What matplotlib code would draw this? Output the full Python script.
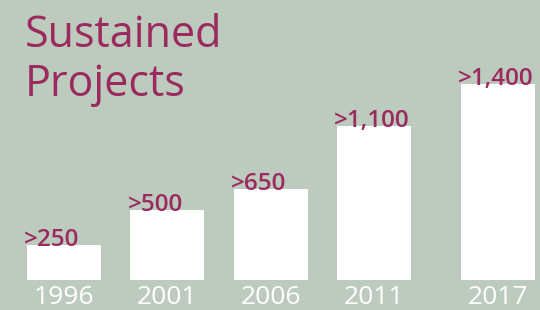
import matplotlib.pyplot as plt
from matplotlib import transforms

years = [1996, 2001, 2006, 2011, 2017]
projects = [250, 500, 650, 1100, 1400]
labels = ['>250', '>500', '>650', '>1,100', '>1,400']

bg = '#bdcbbf'
maroon = '#9b2a5e'
plt.rcParams['font.family'] = ['Open Sans', 'DejaVu Sans']

fig = plt.figure(figsize=(5.4, 3.1), dpi=100, facecolor=bg)
ax = fig.add_axes([0, 30 / 310, 1, 280 / 310])
ax.set_facecolor(bg)

w = 3.58
ax.bar(years, projects, width=w, color='white', zorder=2)
ax.set_xlim(1992.9, 2019.03)
ax.set_ylim(0, 2000)
ax.axis('off')

shift = transforms.offset_copy(ax.transData, fig=fig, x=-2, y=-1, units='points')
below = transforms.offset_copy(ax.transData, fig=fig, y=-17.5, units='points')
for yr, v, lab in zip(years, projects, labels):
    ax.text(yr - w / 2, v, lab, transform=shift, ha='left', va='baseline',
            fontsize=17.5, color=maroon, fontweight='semibold', zorder=3)
    ax.text(yr, 0, str(yr), transform=below, ha='center', va='baseline',
            fontsize=19, color='white', clip_on=False)

fig.text(25 / 540, 1 - 47 / 310, 'Sustained', fontsize=31, color=maroon, va='baseline', ha='left')
fig.text(25 / 540, 1 - 96 / 310, 'Projects', fontsize=31, color=maroon, va='baseline', ha='left')

fig.savefig('out.png', dpi=100, facecolor=bg)
